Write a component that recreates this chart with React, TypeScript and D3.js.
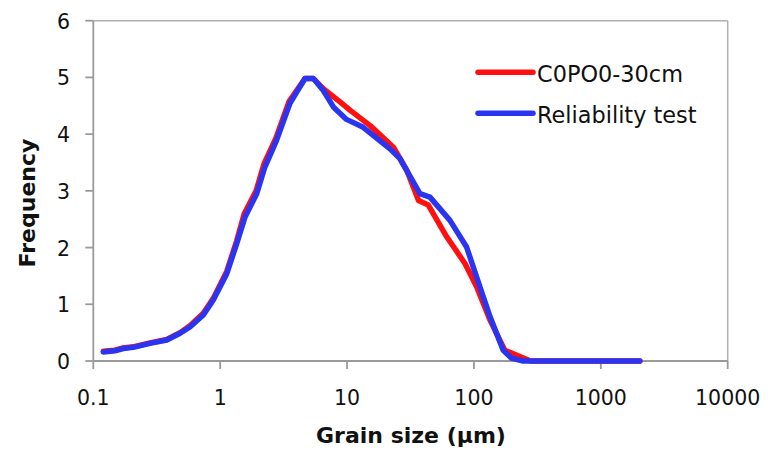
import React from "react";
import * as d3 from "d3";

// Particle-size distribution curves (size in µm, frequency in %)
const sampleSizes = [0.12, 0.148, 0.172, 0.206, 0.28, 0.379, 0.483, 0.578, 0.736, 0.88, 1.127, 1.35, 1.55, 1.92, 2.22, 2.75, 3.5, 3.98, 4.66, 5.43, 6.5, 8.8, 10.6, 15.2, 23.2, 29.6, 36.6, 43.7, 61, 85, 105, 134, 175, 230, 280, 500, 1000, 2030];
const sampleFreq = [0.17, 0.19, 0.23, 0.25, 0.32, 0.38, 0.5, 0.62, 0.84, 1.1, 1.58, 2.12, 2.6, 3.0, 3.48, 3.93, 4.58, 4.76, 4.98, 4.98, 4.8, 4.57, 4.42, 4.15, 3.77, 3.36, 2.83, 2.75, 2.19, 1.72, 1.31, 0.72, 0.19, 0.08, 0, 0, 0, 0];

const testSizes = [0.12, 0.148, 0.172, 0.206, 0.28, 0.379, 0.483, 0.578, 0.736, 0.88, 1.127, 1.35, 1.57, 1.94, 2.25, 2.78, 3.54, 4.01, 4.66, 5.43, 6.5, 7.8, 9.9, 13.4, 21.8, 26.1, 37.5, 45, 64.7, 87.5, 105, 134, 170, 198, 244, 500, 1000, 2030];
const testFreq = [0.16, 0.18, 0.22, 0.24, 0.31, 0.37, 0.49, 0.6, 0.81, 1.07, 1.54, 2.07, 2.54, 2.95, 3.42, 3.89, 4.54, 4.74, 4.98, 4.98, 4.77, 4.48, 4.26, 4.12, 3.74, 3.57, 2.95, 2.89, 2.48, 2.01, 1.48, 0.78, 0.19, 0.05, 0, 0, 0, 0];

const xTicks = [0.1, 1, 10, 100, 1000, 10000];
const xTickLabels = ["0.1", "1", "10", "100", "1000", "10000"];
const yTicks = [0, 1, 2, 3, 4, 5, 6];

const seriesNames = ["C0PO0-30cm", "Reliability test"];
const seriesColors = ["#ff1010", "#2a35f2"];

const W = 768;
const H = 455;
const left = 93.3;
const right = 727.7;
const top = 20.7;
const bottom = 361;
const font = "'DejaVu Sans', Verdana, sans-serif";
const axisColor = "#9a9a9a";

export default function App() {
  const x = d3.scaleLog().domain([0.1, 10000]).range([left, right]);
  const y = d3.scaleLinear().domain([0, 6]).range([bottom, top]);

  const line = d3
    .line<[number, number]>()
    .x((d) => x(d[0]))
    .y((d) => y(d[1]))
    .curve(d3.curveLinear);

  const series = [
    sampleSizes.map((s, i) => [s, sampleFreq[i]] as [number, number]),
    testSizes.map((s, i) => [s, testFreq[i]] as [number, number]),
  ];

  return (
    <svg
      width={W}
      height={H}
      style={{ position: "absolute", left: 0, top: 0, background: "#fff" }}
      fontFamily={font}
    >
      {/* plot frame */}
      <line x1={left} x2={right} y1={top} y2={top} stroke="#b0b0b0" strokeWidth={1.5} />
      <line x1={right} x2={right} y1={top} y2={bottom} stroke="#b0b0b0" strokeWidth={1.5} />
      <line x1={left} x2={left} y1={top} y2={bottom} stroke={axisColor} strokeWidth={1.8} />
      <line x1={left} x2={right} y1={bottom} y2={bottom} stroke={axisColor} strokeWidth={1.8} />

      {/* y ticks */}
      {yTicks.map((t) => (
        <g key={"y" + t}>
          <line x1={left - 8} x2={left} y1={y(t)} y2={y(t)} stroke={axisColor} strokeWidth={1.8} />
          <text x={70} y={y(t) + 8} textAnchor="end" fontSize={20.5} fill="#111">
            {t}
          </text>
        </g>
      ))}

      {/* x ticks */}
      {xTicks.map((t, i) => (
        <g key={"x" + t}>
          <line x1={x(t)} x2={x(t)} y1={bottom} y2={bottom + 8} stroke={axisColor} strokeWidth={1.8} />
          <text x={x(t)} y={405} textAnchor="middle" fontSize={20.5} fill="#111">
            {xTickLabels[i]}
          </text>
        </g>
      ))}

      {/* curves */}
      {series.map((d, i) => (
        <path
          key={seriesNames[i]}
          d={line(d) ?? ""}
          fill="none"
          stroke={seriesColors[i]}
          strokeWidth={5.5}
          strokeLinejoin="round"
          strokeLinecap="round"
        />
      ))}

      {/* legend */}
      {seriesNames.map((name, i) => {
        const ly = i === 0 ? 72.3 : 113.3;
        return (
          <g key={"lg" + name}>
            <line x1={478} x2={533} y1={ly} y2={ly} stroke={seriesColors[i]} strokeWidth={5.5} strokeLinecap="round" />
            <text x={537} y={ly + 9.5} fontSize={22.4} fill="#111">
              {name}
            </text>
          </g>
        );
      })}

      {/* axis titles */}
      <text x={411} y={443} textAnchor="middle" fontSize={22} fontWeight="bold" fill="#111">
        Grain size (µm)
      </text>
      <text
        transform="translate(35,203) rotate(-90)"
        textAnchor="middle"
        fontSize={22}
        fontWeight="bold"
        fill="#111"
      >
        Frequency
      </text>
    </svg>
  );
}
